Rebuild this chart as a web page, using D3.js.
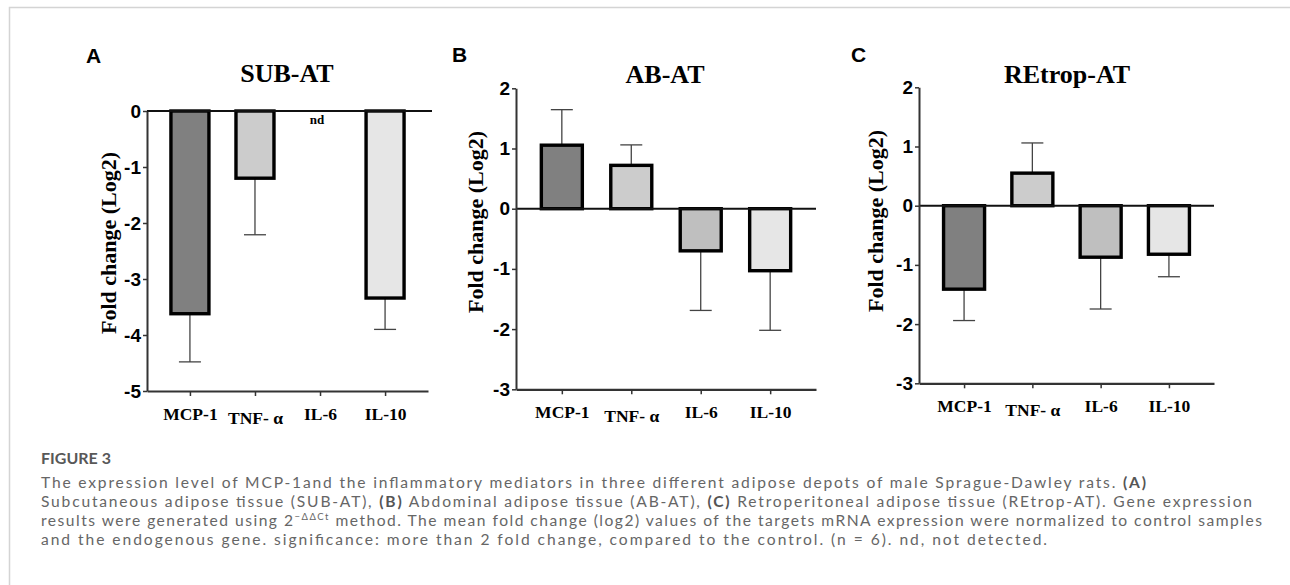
<!DOCTYPE html>
<html lang="en">
<head>
<meta charset="utf-8">
<title>Figure 3</title>
<script src="https://d3js.org/d3.v7.min.js"></script>
<style>
  body { margin: 0; background: #fff; }
  svg { display: block; }
</style>
</head>
<body>
<div id="chart"></div>
<script>
// ---- data ----
const categories = ["MCP-1", "TNF- \u03b1", "IL-6", "IL-10"];
const barColors = ["#808080", "#cccccc", "#bfbfbf", "#e6e6e6"];

const subValues = [-3.62, -1.2, null, -3.34];   // IL-6 not detected
const subErrors = [0.86, 1.01, null, 0.56];
const subTicks = [0, -1, -2, -3, -4, -5];

const abValues = [1.055, 0.72, -0.70, -1.03];
const abErrors = [0.59, 0.34, 0.99, 0.99];
const abTicks = [2, 1, 0, -1, -2, -3];

const retropValues = [-1.41, 0.55, -0.87, -0.82];
const retropErrors = [0.53, 0.51, 0.875, 0.38];
const retropTicks = [2, 1, 0, -1, -2, -3];

const svgWidth = 1290;
const svgHeight = 585;

const svg = d3.select("#chart").append("svg")
  .attr("width", svgWidth)
  .attr("height", svgHeight)
  .style("background", "#fff");

// frame of the figure box
svg.append("path")
  .attr("d", "M9.5,585 L9.5,7.5 L1290,7.5")
  .attr("fill", "none")
  .attr("stroke", "#d4d4d4")
  .attr("stroke-width", 1.5);

const panels = [
  { letter: "A", title: "SUB-AT", values: subValues, errors: subErrors, ticks: subTicks,
    domain: [-5, 0], x0: 147, x1: 428, yTop: 111, yBot: 391, barW: 38,
    letterX: 86, letterY: 63, titleX: 287, titleY: 82, labelX: 116, labelY: 243 },
  { letter: "B", title: "AB-AT", values: abValues, errors: abErrors, ticks: abTicks,
    domain: [-3, 2], x0: 516, x1: 816, yTop: 88.3, yBot: 389.3, barW: 41,
    letterX: 452, letterY: 62, titleX: 665, titleY: 83, labelX: 483, labelY: 222 },
  { letter: "C", title: "REtrop-AT", values: retropValues, errors: retropErrors, ticks: retropTicks,
    domain: [-3, 2], x0: 919, x1: 1214, yTop: 87.3, yBot: 383.3, barW: 41,
    letterX: 851, letterY: 62, titleX: 1067, titleY: 83, labelX: 883, labelY: 221 }
];

panels.forEach(p => {
  const g = svg.append("g");

  const xScale = d3.scalePoint()
    .domain(categories)
    .range([p.x0, p.x1])
    .padding(0.66);

  const yScale = d3.scaleLinear()
    .domain(p.domain)
    .range([p.yBot, p.yTop]);

  // panel letter and title
  g.append("text")
    .attr("x", p.letterX).attr("y", p.letterY)
    .attr("font-family", "'Liberation Sans', Arial, sans-serif")
    .attr("font-weight", "bold")
    .attr("font-size", 21)
    .text(p.letter);

  g.append("text")
    .attr("x", p.titleX).attr("y", p.titleY)
    .attr("text-anchor", "middle")
    .attr("font-family", "'Liberation Serif', 'Times New Roman', serif")
    .attr("font-weight", "bold")
    .attr("font-size", 26)
    .text(p.title);

  // y axis label
  g.append("text")
    .attr("transform", `translate(${p.labelX}, ${p.labelY}) rotate(-90)`)
    .attr("text-anchor", "middle")
    .attr("font-family", "'Liberation Serif', 'Times New Roman', serif")
    .attr("font-weight", "bold")
    .attr("font-size", 22)
    .text("Fold change (Log2)");

  // bars
  const rows = categories.map((c, i) => ({ cat: c, v: p.values[i], e: p.errors[i], color: barColors[i] }));
  const shown = rows.filter(d => d.v !== null);

  // error bars (one sided, away from zero)
  shown.forEach(d => {
    const xc = xScale(d.cat);
    const end = d.v < 0 ? d.v - d.e : d.v + d.e;
    g.append("line")
      .attr("x1", xc).attr("x2", xc)
      .attr("y1", yScale(d.v)).attr("y2", yScale(end))
      .attr("stroke", "#444").attr("stroke-width", 1.3);
    g.append("line")
      .attr("x1", xc - 11).attr("x2", xc + 11)
      .attr("y1", yScale(end)).attr("y2", yScale(end))
      .attr("stroke", "#444").attr("stroke-width", 1.3);
  });

  g.selectAll("rect.bar")
    .data(shown)
    .enter()
    .append("rect")
    .attr("class", "bar")
    .attr("x", d => xScale(d.cat) - p.barW / 2)
    .attr("width", p.barW)
    .attr("y", d => yScale(Math.max(0, d.v)))
    .attr("height", d => Math.abs(yScale(d.v) - yScale(0)))
    .attr("fill", d => d.color)
    .attr("stroke", "#000")
    .attr("stroke-width", 3.4);

  // not detected marker
  rows.filter(d => d.v === null).forEach(d => {
    g.append("text")
      .attr("x", xScale(d.cat) - 3).attr("y", yScale(0) + 13)
      .attr("text-anchor", "middle")
      .attr("font-family", "'Liberation Serif', 'Times New Roman', serif")
      .attr("font-weight", "bold")
      .attr("font-size", 13)
      .text("nd");
  });

  // zero line
  g.append("line")
    .attr("x1", p.x0).attr("x2", p.x1 + (p.domain[1] === 0 ? 4 : 0))
    .attr("y1", yScale(0)).attr("y2", yScale(0))
    .attr("stroke", "#111").attr("stroke-width", 2);

  // y axis
  const yAxis = d3.axisLeft(yScale)
    .tickValues(p.ticks)
    .tickSize(4)
    .tickSizeOuter(0)
    .tickPadding(2)
    .tickFormat(d3.format("d"));

  const yg = g.append("g")
    .attr("transform", `translate(${p.x0}, 0)`)
    .call(yAxis);
  yg.select(".domain").attr("stroke", "#333").attr("stroke-width", 2);
  yg.selectAll(".tick line").attr("stroke", "#333").attr("stroke-width", 1.5);
  yg.selectAll(".tick text")
    .attr("font-family", "'Liberation Sans', Arial, sans-serif")
    .attr("font-weight", "bold")
    .attr("font-size", 19)
    .attr("fill", "#000")
    .text(d => d < 0 ? "-" + Math.abs(d) : String(d));

  // x axis at the bottom
  const xAxis = d3.axisBottom(xScale)
    .tickSize(5)
    .tickSizeOuter(0)
    .tickPadding(7);

  const xg = g.append("g")
    .attr("transform", `translate(0, ${p.yBot})`)
    .call(xAxis);
  xg.select(".domain").attr("stroke", "#333").attr("stroke-width", 2.2);
  xg.selectAll(".tick line").attr("stroke", "#333").attr("stroke-width", 1.5);
  xg.selectAll(".tick text")
    .attr("font-family", "'Liberation Serif', 'Times New Roman', serif")
    .attr("font-weight", "bold")
    .attr("font-size", 17.5)
    .attr("fill", "#000")
    .attr("dy", (d, i) => i === 1 ? "1.2em" : "0.95em");
});

// ---- caption ----
const capFont = "Lato, 'Open Sans', sans-serif";
const caption = svg.append("g").attr("fill", "#666").attr("font-family", capFont);

caption.append("text")
  .attr("x", 41).attr("y", 464)
  .attr("font-size", 16)
  .attr("font-weight", 700)
  .attr("fill", "#585858")
  .text("FIGURE 3");

const captionLines = [
  { y: 487.5, end: 1146, parts: [
    ["The expression level of MCP-1and the inflammatory mediators in three different adipose depots of male Sprague-Dawley rats. "],
    ["(A)", "bold"]] },
  { y: 506.5, end: 1252, parts: [
    ["Subcutaneous adipose tissue (SUB-AT), "], ["(B)", "bold"],
    [" Abdominal adipose tissue (AB-AT), "], ["(C)", "bold"],
    [" Retroperitoneal adipose tissue (REtrop-AT). Gene expression"]] },
  { y: 525.5, end: 1262, parts: [
    ["results were generated using 2"], ["\u2212\u0394\u0394Ct", "sup"],
    [" method. The mean fold change (log2) values of the targets mRNA expression were normalized to control samples", "after"]] },
  { y: 544.5, end: 1047, parts: [
    ["and the endogenous gene. significance: more than 2 fold change, compared to the control. (n = 6). nd, not detected."]] }
];

captionLines.forEach(line => {
  const t = caption.append("text")
    .attr("x", 41).attr("y", line.y)
    .attr("font-size", 15.6)
    .attr("xml:space", "preserve")
    .attr("textLength", line.end - 41)
    .attr("lengthAdjust", "spacing");
  line.parts.forEach(([str, kind]) => {
    const s = t.append("tspan").text(str);
    if (kind === "bold") s.attr("font-weight", 700).attr("fill", "#555");
    if (kind === "sup") s.attr("font-size", 9.5).attr("dy", -6);
    if (kind === "after") s.attr("dy", 6);
  });
});
</script>
</body>
</html>
